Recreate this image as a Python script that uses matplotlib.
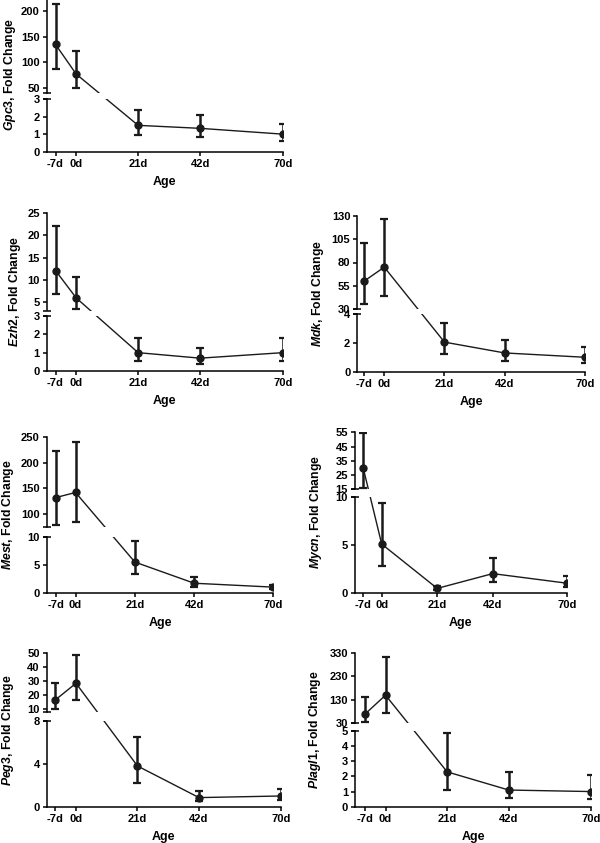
import numpy as np
import matplotlib
matplotlib.use('Agg')
import matplotlib.pyplot as plt

plt.rcParams['font.family'] = ['Liberation Sans', 'DejaVu Sans']
plt.rcParams['font.weight'] = 'bold'
plt.rcParams['mathtext.fontset'] = 'custom'
plt.rcParams['mathtext.it'] = 'Liberation Sans:italic:bold'
plt.rcParams['mathtext.rm'] = 'Liberation Sans:bold'

#------------------------------ DATA ---------------------------#
days = [-7, 0, 21, 42, 70]
day_labels = ['-7d', '0d', '21d', '42d', '70d']

genes = ['Gpc3', 'Ezh2', 'Mdk', 'Mest', 'Mycn', 'Peg3', 'Plagl1']

gpc3_mean = [135, 77, 1.5, 1.33, 1.0]
gpc3_hi = [215, 122, 2.35, 2.1, 1.6]
gpc3_lo = [87, 49, 0.95, 0.85, 0.62]

ezh2_mean = [12.1, 6.0, 1.0, 0.7, 1.0]
ezh2_hi = [22.0, 10.7, 1.8, 1.25, 1.8]
ezh2_lo = [6.8, 3.5, 0.55, 0.4, 0.55]

mdk_mean = [60, 75, 2.05, 1.3, 1.0]
mdk_hi = [101, 127, 3.4, 2.2, 1.7]
mdk_lo = [35, 44, 1.2, 0.75, 0.6]

mest_mean = [132, 142, 5.5, 1.7, 1.0]
mest_hi = [224, 240, 9.3, 2.9, 1.35]
mest_lo = [78, 84, 3.3, 1.0, 0.7]

mycn_mean = [30, 5.1, 0.45, 2.0, 1.0]
mycn_hi = [54.5, 9.4, 0.7, 3.6, 1.8]
mycn_lo = [16, 2.8, 0.3, 1.1, 0.6]

peg3_mean = [16.8, 28.6, 3.8, 0.85, 1.0]
peg3_hi = [29, 49, 6.5, 1.45, 1.65]
peg3_lo = [10, 17, 2.2, 0.5, 0.6]

plagl1_mean = [67, 149, 2.3, 1.1, 1.0]
plagl1_hi = [141, 312, 4.85, 2.3, 2.1]
plagl1_lo = [33, 70, 1.1, 0.55, 0.5]

# broken y axis: upper range, lower range, ticks
upper_lims = [(40, 226), (3.2, 25), (30, 130), (75, 250), (15, 55), (8.3, 50), (30, 330)]
lower_lims = [(0, 3), (0, 3), (0, 4), (0, 10), (0, 10), (0, 8), (0, 5)]
upper_ticks = [[50, 100, 150, 200], [5, 10, 15, 20, 25], [30, 55, 80, 105, 130],
               [100, 150, 200, 250], [15, 25, 35, 45, 55], [10, 20, 30, 40, 50],
               [30, 130, 230, 330]]
lower_ticks = [[0, 1, 2, 3], [0, 1, 2, 3], [0, 2, 4], [0, 5, 10], [0, 5, 10],
               [0, 4, 8], [0, 1, 2, 3, 4, 5]]

means = [gpc3_mean, ezh2_mean, mdk_mean, mest_mean, mycn_mean, peg3_mean, plagl1_mean]
his = [gpc3_hi, ezh2_hi, mdk_hi, mest_hi, mycn_hi, peg3_hi, plagl1_hi]
los = [gpc3_lo, ezh2_lo, mdk_lo, mest_lo, mycn_lo, peg3_lo, plagl1_lo]

#------------------------------ LAYOUT (pixels) ---------------------------#
W, H = 600, 843
# x_left, x_right, upper top, upper bottom, lower top, lower bottom, ylabel x, xmin
layout = [
    (46.7, 282.7, -2, 93, 99, 151.7, 10, -10),
    (46.7, 282.7, 212.7, 310.5, 316, 371, 15, -10),
    (357.3, 585, 216, 309, 314, 371.7, 318, -9.4),
    (46.7, 273.3, 437.3, 526.7, 537, 592.7, 8, -10.2),
    (355, 566.7, 432.3, 489.3, 497.3, 592.7, 316, -10.1),
    (46.7, 281, 653.3, 711.7, 721, 806.7, 8, -10),
    (355, 591, 653.3, 722.7, 731, 806.7, 315, -10.4),
]

fig = plt.figure(figsize=(W / 100, H / 100), dpi=100)


def px_axes(xl, xr, yt, yb):
    return fig.add_axes([xl / W, 1 - yb / H, (xr - xl) / W, (yb - yt) / H])


def style(ax):
    for s in ['top', 'right']:
        ax.spines[s].set_visible(False)
    for s in ['left', 'bottom']:
        ax.spines[s].set_linewidth(1.1)
    ax.tick_params(length=3, width=1.1, labelsize=8, pad=2)
    for lab in ax.get_xticklabels() + ax.get_yticklabels():
        lab.set_fontweight('bold')


for i, gene in enumerate(genes):
    xl, xr, ut, ub, lt, lb, lx, xmin = layout[i]
    top = px_axes(xl, xr, ut, ub)
    bot = px_axes(xl, xr, lt, lb)
    for ax in (top, bot):
        ax.set_xlim(xmin, 70)
    top.set_ylim(*upper_lims[i])
    bot.set_ylim(*lower_lims[i])
    top.set_yticks(upper_ticks[i])
    bot.set_yticks(lower_ticks[i])
    bot.set_xticks(days)
    bot.set_xticklabels(day_labels)
    top.set_xticks([])
    style(top)
    style(bot)
    top.spines['bottom'].set_visible(False)
    bot.set_xlabel('Age', fontsize=9, fontweight='bold', labelpad=5)

    # break marks
    top.plot([0], [0], transform=top.transAxes, marker='_', ms=6, mew=1.1,
             color='k', clip_on=False)
    bot.plot([0], [1], transform=bot.transAxes, marker='_', ms=6, mew=1.1,
             color='k', clip_on=False)

    m = np.array(means[i], dtype=float)
    hi = np.array(his[i], dtype=float)
    lo = np.array(los[i], dtype=float)
    in_top = m > lower_lims[i][1]

    # connecting line, straight in display space across the break
    disp = [(top if t else bot).transData.transform((d, v))
            for d, v, t in zip(days, m, in_top)]
    for ax in (top, bot):
        xy = ax.transData.inverted().transform(np.array(disp))
        ax.plot(xy[:, 0], xy[:, 1], color='#1a1a1a', lw=1.0, zorder=2)

    for ax, sel in ((top, in_top), (bot, ~in_top)):
        if not sel.any():
            continue
        dx = np.array(days)[sel]
        ax.errorbar(dx, m[sel], yerr=[m[sel] - lo[sel], hi[sel] - m[sel]],
                    fmt='o', color='#1a1a1a', ms=5, elinewidth=1.8,
                    capsize=3, capthick=1.6, zorder=3)

    yc = ((ut + lb) / 2)
    fig.text(lx / W, 1 - yc / H, r'$\mathit{' + gene + '}$, Fold Change',
             rotation=90, ha='center', va='center', fontsize=8.8,
             fontweight='bold')

fig.savefig('out.png', dpi=100, facecolor='white')
